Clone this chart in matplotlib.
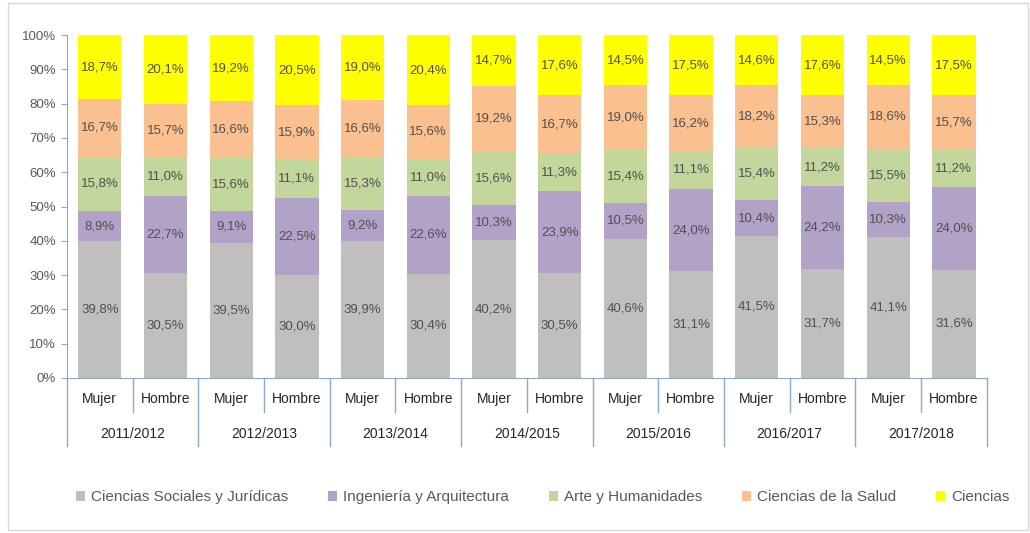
import matplotlib
matplotlib.use('Agg')
import matplotlib.pyplot as plt
from matplotlib.patches import Rectangle
import numpy as np

plt.rcParams['font.family'] = ['Liberation Sans', 'DejaVu Sans']

years = ["2011/2012", "2012/2013", "2013/2014", "2014/2015", "2015/2016", "2016/2017", "2017/2018"]
sexes = ["Mujer", "Hombre"]
series_names = ["Ciencias Sociales y Jurídicas", "Ingeniería y Arquitectura",
                "Arte y Humanidades", "Ciencias de la Salud", "Ciencias"]

# one value per bar, order: Mujer, Hombre for each year
sociales = [39.8, 30.5, 39.5, 30.0, 39.9, 30.4, 40.2, 30.5, 40.6, 31.1, 41.5, 31.7, 41.1, 31.6]
ingenieria = [8.9, 22.7, 9.1, 22.5, 9.2, 22.6, 10.3, 23.9, 10.5, 24.0, 10.4, 24.2, 10.3, 24.0]
arte = [15.8, 11.0, 15.6, 11.1, 15.3, 11.0, 15.6, 11.3, 15.4, 11.1, 15.4, 11.2, 15.5, 11.2]
salud = [16.7, 15.7, 16.6, 15.9, 16.6, 15.6, 19.2, 16.7, 19.0, 16.2, 18.2, 15.3, 18.6, 15.7]
ciencias = [18.7, 20.1, 19.2, 20.5, 19.0, 20.4, 14.7, 17.6, 14.5, 17.5, 14.6, 17.6, 14.5, 17.5]

colors = ["#BFBFBF", "#B3A2C7", "#C3D69B", "#FAC090", "#FFFF00"]
axis_color = "#8EA9C8"
text_color = "#595959"

data = np.array([sociales, ingenieria, arte, salud, ciencias])
shares = data / data.sum(axis=0) * 100

fig = plt.figure(figsize=(10.30, 5.33), dpi=100)
ax = fig.add_axes([0.065, 0.291, 0.893, 0.643])

n = data.shape[1]
x = np.arange(n)
bottom = np.zeros(n)
for i, name in enumerate(series_names):
    ax.bar(x, shares[i], bottom=bottom, width=0.66, color=colors[i], label=name, zorder=2)
    for j in range(n):
        ax.text(x[j], bottom[j] + shares[i][j] / 2, f"{data[i][j]:.1f}%".replace(".", ","),
                ha="center", va="center", fontsize=9.5, color="#505050", zorder=3)
    bottom += shares[i]

ax.set_xlim(-0.5, n - 0.5)
ax.set_ylim(0, 100)
ax.set_yticks(np.arange(0, 101, 10))
ax.set_yticklabels([f"{v}%" for v in range(0, 101, 10)], fontsize=9.5, color=text_color)
ax.tick_params(axis="y", length=4, color=axis_color, pad=4)
ax.set_xticks([])

for side in ["top", "right"]:
    ax.spines[side].set_visible(False)
ax.spines["left"].set_color(axis_color)
ax.spines["bottom"].set_color(axis_color)

# two-level category axis
trans = ax.get_xaxis_transform()
for j in range(n):
    ax.text(x[j], -0.062, sexes[j % 2], transform=trans, ha="center", va="center",
            fontsize=10, color="#262626")
for b in range(n + 1):
    low = -0.2 if b % 2 == 0 else -0.10
    ax.plot([b - 0.5, b - 0.5], [0, low], transform=trans, color=axis_color,
            lw=1, clip_on=False)
for k, yr in enumerate(years):
    ax.text(2 * k + 0.5, -0.165, yr, transform=trans, ha="center", va="center",
            fontsize=10, color="#262626")

leg = fig.legend(loc="center", bbox_to_anchor=(0.527, 0.067), ncol=5, frameon=False,
                 fontsize=11, handlelength=0.6, handleheight=0.6, handletextpad=0.4,
                 columnspacing=2.6)
for t in leg.get_texts():
    t.set_color(text_color)

fig.patches.append(Rectangle((0.008, 0.005), 0.99, 0.99, transform=fig.transFigure,
                             fill=False, edgecolor="#D9D9D9", lw=1))

fig.savefig("out.png", dpi=100)
